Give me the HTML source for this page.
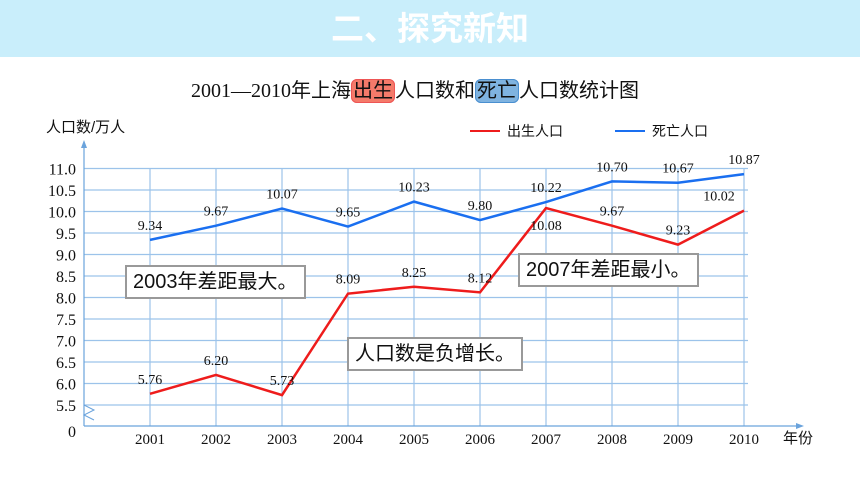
<!DOCTYPE html>
<html><head><meta charset="utf-8"><style>
body{margin:0;width:860px;height:484px;background:#fff;overflow:hidden;position:relative;font-family:"Liberation Serif","Noto Serif CJK SC",serif}
.hdr{position:absolute;left:0;top:0;width:860px;height:57px;background:#c9eefb;color:#fff;font:bold 33px "Liberation Sans","Noto Sans CJK SC",sans-serif;text-align:center;line-height:57px}
.title{position:absolute;left:0;top:76px;width:830px;text-align:center;font-size:20px;line-height:30px;font-family:"Liberation Serif","Noto Sans CJK SC",serif;color:#111}
.hl{border-radius:6px;padding:0 1px}
.box{position:absolute;background:#fff;border:2px solid #999;font:20px "Liberation Sans","Noto Sans CJK SC",sans-serif;color:#111;padding:0 6px;line-height:30px}
</style></head><body>
<div class="hdr">二、探究新知</div>
<div class="title">2001—2010年上海<span class="hl" style="background:#f47a6a;border:1px solid #e55">出生</span>人口数和<span class="hl" style="background:#7fb3e0;border:1px solid #4a8fd0">死亡</span>人口数统计图</div>
<svg id="chart" width="860" height="484" style="position:absolute;left:0;top:0"></svg>
<div class="box" style="left:125px;top:265px">2003年差距最大。</div>
<div class="box" style="left:347px;top:337px">人口数是负增长。</div>
<div class="box" style="left:518px;top:253px">2007年差距最小。</div>
<script>
const years=["2001","2002","2003","2004","2005","2006","2007","2008","2009","2010"];
const births=[5.76,6.20,5.73,8.09,8.25,8.12,10.08,9.67,9.23,10.02];
const deaths=[9.34,9.67,10.07,9.65,10.23,9.80,10.22,10.70,10.67,10.87];
const yTicks=[5.5,6.0,6.5,7.0,7.5,8.0,8.5,9.0,9.5,10.0,10.5,11.0];
const svg=document.getElementById('chart');const NS='http://www.w3.org/2000/svg';
function xs(i){return 150+i*66;}
function ys(v){return 405-(v-5.5)*43;}
function mk(t,a,p){const e=document.createElementNS(NS,t);for(const k in a)e.setAttribute(k,a[k]);(p||svg).appendChild(e);return e;}
yTicks.forEach(v=>{
 const l=mk('line',{x1:84,x2:748,y1:ys(v),y2:ys(v),stroke:'#9cc3ea','stroke-width':1.2});
 
 
 const t=mk('text',{x:76,y:ys(v)+6,'text-anchor':'end','font-size':16,fill:'#111'});t.textContent=v.toFixed(1);
 
 
});
years.forEach((y,i)=>{
 const l=mk('line',{x1:xs(i),x2:xs(i),y1:ys(11),y2:426,stroke:'#9cc3ea','stroke-width':1.2});
 
 
 const t=mk('text',{x:xs(i),y:444,'text-anchor':'middle','font-size':15,fill:'#111'});t.textContent=y;
 
 
});
const z=mk('text',{x:76,y:437,'text-anchor':'end','font-size':16,fill:'#111'});z.textContent='0';


mk('line',{x1:84,x2:84,y1:426,y2:143,stroke:'#6aa3dc','stroke-width':1.2});
mk('path',{d:'M81,148 L84,140 L87,148Z',fill:'#6aa3dc'});
mk('line',{x1:84,x2:800,y1:426,y2:426,stroke:'#6aa3dc','stroke-width':1.2});
mk('path',{d:'M796,423 L804,426 L796,429Z',fill:'#6aa3dc'});
mk('path',{d:'M84,405 L94,410 L84,415 L94,420',fill:'none',stroke:'#6aa3dc','stroke-width':1});
const yl=mk('text',{x:46,y:132,'font-size':15,fill:'#111','font-family':'Liberation Sans,Noto Sans CJK SC,sans-serif'});yl.textContent='人口数/万人';


const xl=mk('text',{x:783,y:443,'font-size':15,fill:'#111','font-family':'Liberation Sans,Noto Sans CJK SC,sans-serif'});xl.textContent='年份';


function series(vals,color,name,below){
 const p=mk('polyline',{points:vals.map((v,i)=>xs(i)+','+ys(v)).join(' '),fill:'none',stroke:color,'stroke-width':2.5});
 
 
 vals.forEach((v,i)=>{
  const b=below(i);
  const t=mk('text',{x:xs(i)+(b===2?-25:0),y:b===1?ys(v)+22:ys(v)-10,'text-anchor':'middle','font-size':14,fill:'#111'});t.textContent=v.toFixed(2);
  
  
 });
}
series(deaths,'#1a6ff0','deaths',()=>0);
series(births,'#ee1c1c','births',i=>i===6?1:(i===9?2:0));
[['#ee1c1c','出生人口',470],['#1a6ff0','死亡人口',615]].forEach(([c,s,x])=>{
 const l=mk('line',{x1:x,x2:x+30,y1:131,y2:131,stroke:c,'stroke-width':2});
 
 
 const t=mk('text',{x:x+37,y:136,'font-size':14,fill:'#111','font-family':'Liberation Sans,Noto Sans CJK SC,sans-serif'});t.textContent=s;
 
 
});
</script>
</body></html>
